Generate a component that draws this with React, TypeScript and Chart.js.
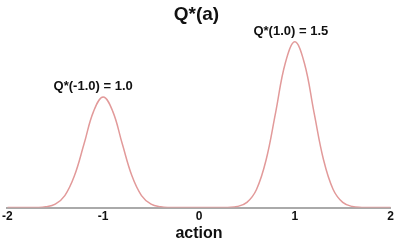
import React, { useEffect, useRef } from "react";
import { Chart, registerables } from "chart.js";

Chart.register(...registerables);

const actions = [
  -2.0, -1.9, -1.8, -1.7, -1.6, -1.5, -1.4, -1.3, -1.2, -1.1, -1.0, -0.9, -0.8, -0.7, -0.6, -0.5, -0.4, -0.3, -0.2, -0.1,
  0.0, 0.1, 0.2, 0.3, 0.4, 0.5, 0.6, 0.7, 0.8, 0.9, 1.0, 1.1, 1.2, 1.3, 1.4, 1.5, 1.6, 1.7, 1.8, 1.9, 2.0,
];
const qValues = [
  0, 0, 0.0001, 0.001, 0.007, 0.031, 0.109, 0.288, 0.575, 0.871, 1.0, 0.871, 0.575, 0.288, 0.109, 0.031, 0.007, 0.001, 0, 0,
  0, 0, 0, 0.002, 0.01, 0.047, 0.164, 0.431, 0.862, 1.306, 1.5, 1.306, 0.862, 0.431, 0.164, 0.047, 0.01, 0.002, 0, 0, 0,
];
const xTicks = [-2, -1, 0, 1, 2];
const peakActions = [-1.0, 1.0];
const peakValues = [1.0, 1.5];
const peakLabels = ["Q*(-1.0) = 1.0", "Q*(1.0) = 1.5"];
const chartTitle = "Q*(a)";
const xTitle = "action";

const FONT = "'Liberation Sans', Arial, Helvetica, sans-serif";
const labelShift = [-10, -4];

const annotationPlugin = {
  id: "peakAnnotations",
  afterDatasetsDraw(chart: any) {
    const { ctx, scales } = chart;
    ctx.save();
    ctx.font = `bold 13px ${FONT}`;
    ctx.fillStyle = "#111";
    ctx.textAlign = "center";
    ctx.textBaseline = "bottom";
    peakLabels.forEach((label, i) => {
      const px = scales.x.getPixelForValue(peakActions[i]);
      const py = scales.y.getPixelForValue(peakValues[i]);
      ctx.fillText(label, px + labelShift[i], py - 4);
    });
    ctx.restore();
  },
};

export default function App() {
  const ref = useRef<HTMLCanvasElement>(null);
  useEffect(() => {
    document.body.style.margin = "0";
    const chart = new Chart(ref.current!, {
      type: "line",
      data: {
        datasets: [
          {
            data: actions.map((a, i) => ({ x: a, y: qValues[i] })),
            borderColor: "#e29a9a",
            borderWidth: 1.5,
            pointRadius: 0,
            tension: 0.4,
            fill: false,
          },
        ],
      },
      options: {
        responsive: false,
        animation: false,
        layout: { padding: { left: 0, right: 3, top: 0, bottom: 0 } },
        plugins: {
          legend: { display: false },
          tooltip: { enabled: false },
          title: {
            display: true,
            text: chartTitle,
            color: "#111",
            font: { family: FONT, size: 19, weight: "bold" },
            padding: { top: 3, bottom: 5 },
          },
        },
        scales: {
          x: {
            type: "linear",
            min: -2,
            max: 2,
            afterBuildTicks: (axis: any) => {
              axis.ticks = xTicks.map((v) => ({ value: v }));
            },
            grid: { display: false, drawTicks: false },
            border: { display: true, color: "#aaaaaa", width: 2 },
            ticks: {
              color: "#111",
              font: { family: FONT, size: 12, weight: "bold" },
              padding: 2,
              maxRotation: 0,
            },
            title: {
              display: true,
              text: xTitle,
              color: "#111",
              font: { family: FONT, size: 16, weight: "bold", lineHeight: 1.0 },
              padding: { top: 0, bottom: 0 },
            },
          },
          y: {
            display: false,
            min: 0,
            max: 1.6,
          },
        },
      },
      plugins: [annotationPlugin],
    });
    return () => chart.destroy();
  }, []);
  return (
    <div style={{ width: 396, height: 242 }}>
      <canvas ref={ref} width={396} height={242} />
    </div>
  );
}
